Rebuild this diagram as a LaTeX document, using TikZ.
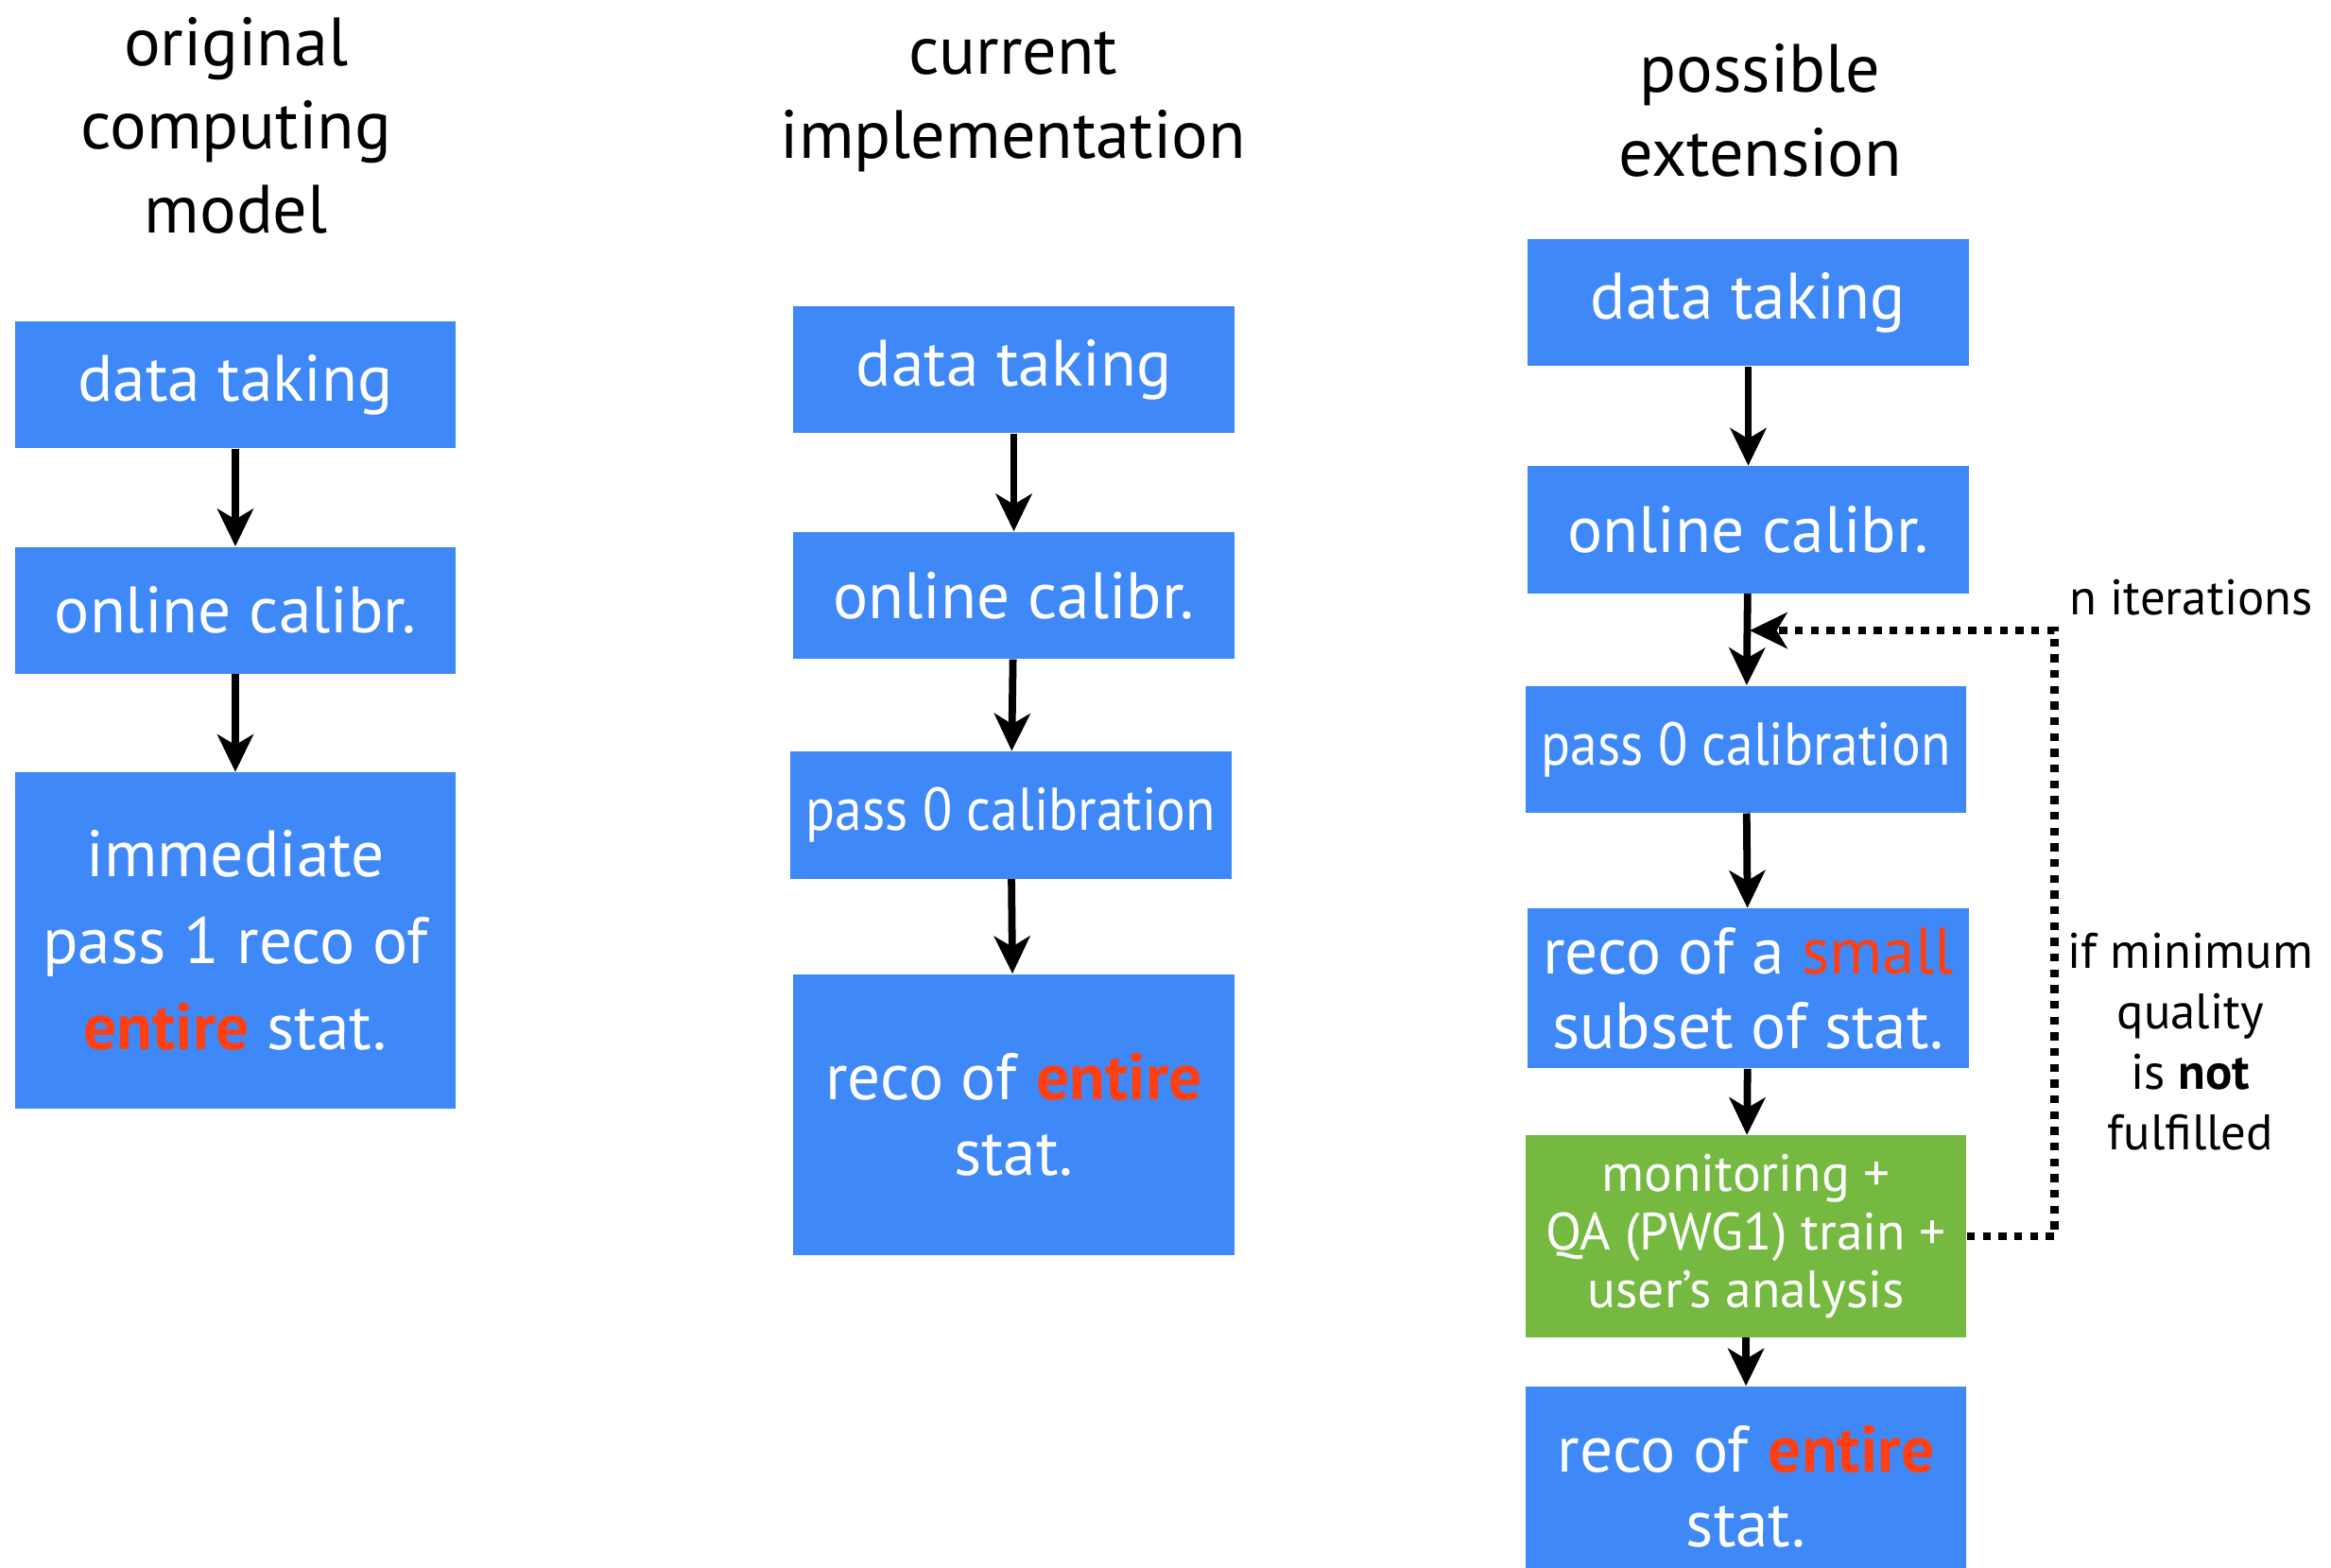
\documentclass[tikz,border=0pt]{standalone}
\usepackage{fontspec}
\setmainfont{PT Sans}
\usetikzlibrary{arrows.meta}
\definecolor{stageblue}{RGB}{63,136,248}
\definecolor{stagegreen}{RGB}{118,185,65}
\definecolor{hotred}{RGB}{255,63,18}
\begin{document}
\begin{tikzpicture}[x=0.2mm,y=-0.2mm,
  stage/.style={fill=stageblue, text=white, inner sep=0pt, minimum width=5.9cm, minimum height=1.7cm, align=center, font=\fontsize{25}{33}\selectfont},
  tightstage/.style={stage, font=\fontsize{23}{30}\selectfont\addfontfeature{FakeStretch=0.9}},
  qastage/.style={stage, fill=stagegreen, font=\fontsize{20}{22}\selectfont},
  heading/.style={align=center, font=\fontsize{26}{32}\selectfont},
  note/.style={align=center, font=\fontsize{19}{23}\selectfont},
  flow/.style={-{Stealth[length=0.5cm,width=0.48cm,inset=0.14cm]}, line width=2.8pt},
  retry/.style={flow, dash pattern=on 3pt off 3pt, line width=3pt}]
%% The page size is fixed here so that it has the proportions of the slide
    \useasboundingbox (0,0) rectangle (1560,1049);
%% Column headings
    \node[heading] (tOrig) at (158,84) {original\\computing\\model};
    \node[heading] (tCurr) at (678,68) {current\\implementation};
    \node[heading] (tPoss) at (1178,74) {possible\\extension};
%% Left column: the original computing model
    \node[stage] (L1) at (157.5,257.5) {data taking};
    \node[stage] (L2) at (157.5,408.5) {online calibr.};
    \node[stage, minimum height=4.5cm] (L3) at (157.5,629.5) {immediate\\pass 1 reco of\\\textbf{\color{hotred}entire} stat.};
    \draw[flow] (L1) -- (L2);
    \draw[flow] (L2) -- (L3);
%% Middle column: the current implementation
    \node[stage] (M1) at (678.5,247.5) {data taking};
    \node[stage] (M2) at (678.5,398.5) {online calibr.};
    \node[tightstage] (M3) at (676.5,545.5) {pass 0 calibration};
    \node[stage, minimum height=3.76cm, font=\fontsize{25}{28.5}\selectfont] (M4) at (678.5,746) {reco of \textbf{\color{hotred}entire}\\stat.};
    \draw[flow] (M1) -- (M2);
    \draw[flow] (M2) -- (M3);
    \draw[flow] (M3) -- (M4);
%% Right column: the possible extension, with the loop back to pass 0
    \node[stage] (R1) at (1170,202.5) {data taking};
    \node[stage] (R2) at (1170,354.5) {online calibr.};
    \node[tightstage] (R3) at (1168.5,501.5) {pass 0 calibration};
    \node[stage, minimum height=2.14cm, font=\fontsize{25}{28.5}\selectfont] (R4) at (1170,661.5) {reco of a {\color{hotred}small}\\subset of stat.};
    \node[qastage, minimum height=2.7cm] (R5) at (1168.5,827.5) {monitoring +\\QA (PWG1) train +\\user’s analysis};
    \node[stage, minimum height=2.68cm, font=\fontsize{25}{28.5}\selectfont] (R6) at (1168.5,995) {reco of \textbf{\color{hotred}entire}\\stat.};
    \draw[flow] (R1) -- (R2);
    \draw[flow] (R2) -- (R3);
    \draw[flow] (R3) -- (R4);
    \draw[flow] (R4) -- (R5);
    \draw[flow] (R5) -- (R6);
    \coordinate (turn) at (1375,422);
    \coordinate (merge) at (1171,422);
    \draw[retry] (R5.east) -| (turn) -- (merge);
    \node[note, anchor=west] (niter) at (1379,400) {n iterations};
    \node[note] (cond) at (1466,697) {if minimum\\quality\\is \textbf{not}\\fulfilled};
\end{tikzpicture}
\end{document}
